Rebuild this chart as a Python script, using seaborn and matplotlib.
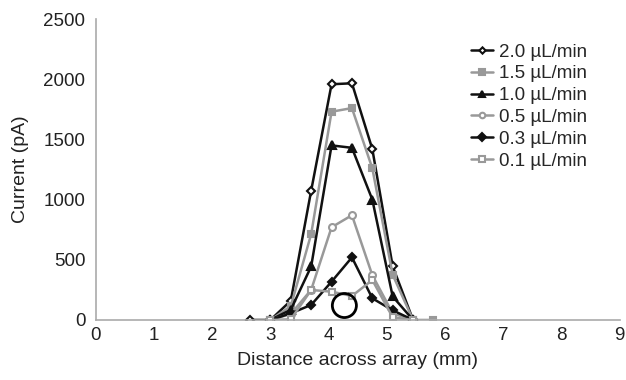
import matplotlib
matplotlib.use("Agg")
import matplotlib.pyplot as plt
import pandas as pd
import seaborn as sns

# distances (mm) and currents (pA)
x_20 = [2.65, 3.0, 3.35, 3.7, 4.05, 4.4, 4.75, 5.1, 5.45]
y_20 = [0, 0, 160, 1075, 1958, 1966, 1420, 445, 0]

x_15 = [3.0, 3.35, 3.7, 4.05, 4.4, 4.75, 5.1, 5.45, 5.8]
y_15 = [0, 115, 714, 1730, 1760, 1260, 375, 0, 0]

x_10 = [3.0, 3.35, 3.7, 4.05, 4.4, 4.75, 5.1, 5.45]
y_10 = [0, 85, 445, 1450, 1430, 1000, 195, 0]

x_05 = [3.0, 3.35, 3.7, 4.05, 4.4, 4.75, 5.1, 5.45]
y_05 = [0, 50, 250, 770, 870, 372, 55, 0]

x_03 = [3.0, 3.35, 3.7, 4.05, 4.4, 4.75, 5.1, 5.45]
y_03 = [0, 55, 125, 318, 520, 180, 80, 0]

x_01 = [3.0, 3.35, 3.7, 4.05, 4.4, 4.75, 5.1, 5.45]
y_01 = [0, 5, 249, 235, 199, 332, 22, 0]

labels = ["2.0 µL/min", "1.5 µL/min", "1.0 µL/min", "0.5 µL/min", "0.3 µL/min", "0.1 µL/min"]

# circled region in the original
circle_x = [4.27]
circle_y = [120]

sns.set_style("white")
plt.rcParams["font.family"] = ["Liberation Sans", "DejaVu Sans"]

black = "#111111"
gray = "#999999"

series = [
    (x_20, y_20, black, "D", "white", 4),
    (x_15, y_15, gray, "s", gray, 5),
    (x_10, y_10, black, "^", black, 6),
    (x_05, y_05, gray, "o", "white", 5),
    (x_03, y_03, black, "D", black, 4.5),
    (x_01, y_01, gray, "s", "white", 5),
]

fig = plt.figure(figsize=(6.26, 3.8), dpi=100)
ax = fig.add_axes([0.153, 0.158, 0.837, 0.792])

for (xs, ys, col, mk, fc, ms), lab in zip(series, labels):
    sns.lineplot(
        x=xs, y=ys, ax=ax, color=col, marker=mk, markersize=ms,
        markerfacecolor=fc, markeredgecolor=col, markeredgewidth=1.5,
        linewidth=1.8, label=lab,
    )

ax.scatter(circle_x, circle_y, s=300, facecolors="none", edgecolors="black", linewidths=2, zorder=5)

ax.set_xlim(0, 9)
ax.set_ylim(0, 2500)
ax.set_xticks(range(0, 10))
ax.set_yticks(range(0, 2501, 500))
ax.set_xlabel("Distance across array (mm)", fontsize=14, color="#222222", labelpad=6)
ax.set_ylabel("Current (pA)", fontsize=14, color="#222222", labelpad=10)
ax.tick_params(axis="y", direction="out", length=4, color="#999999", labelsize=13.5, labelcolor="#222222")
ax.tick_params(axis="x", direction="in", length=3, width=2, color="#222222", labelsize=13.5, labelcolor="#222222", pad=5)

for side in ["top", "right"]:
    ax.spines[side].set_visible(False)
for side in ["left", "bottom"]:
    ax.spines[side].set_color("#aaaaaa")
    ax.spines[side].set_linewidth(1.2)

ax.legend(loc="upper left", bbox_to_anchor=(0.683, 0.975), frameon=False, fontsize=13.5,
          handlelength=1.2, handletextpad=0.3, labelspacing=0.25, markerscale=0.8,
          borderpad=0.4)

fig.savefig("out.png", dpi=100)
